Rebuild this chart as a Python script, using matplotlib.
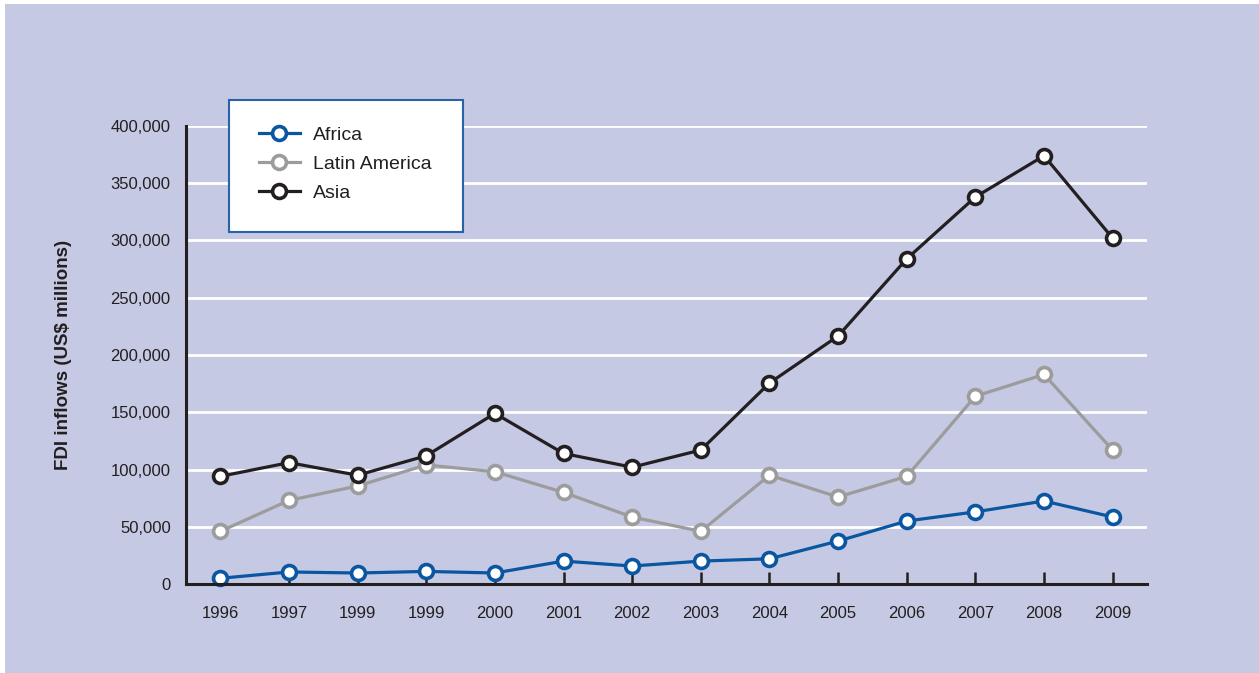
import matplotlib
matplotlib.use("Agg")
import matplotlib.pyplot as plt
from matplotlib.patches import Rectangle
from matplotlib.ticker import FuncFormatter
from matplotlib import font_manager

years = ["1996", "1997", "1999", "1999", "2000", "2001", "2002", "2003",
         "2004", "2005", "2006", "2007", "2008", "2009"]
africa = [5000, 10500, 9600, 11000, 9600, 20000, 15700, 20000,
          22000, 37500, 55000, 63000, 72500, 58500]
latin_america = [46000, 73000, 85600, 104000, 98000, 80000, 58500, 46000,
                 95000, 76000, 94000, 164000, 183000, 117000]
asia = [94000, 106000, 95000, 112000, 149000, 114000, 102000, 117000,
        175500, 216600, 284000, 338000, 374000, 302000]

names = [f.name for f in font_manager.fontManager.ttflist]
fam = "Liberation Sans Narrow" if "Liberation Sans Narrow" in names else "Liberation Sans"
plt.rcParams["font.family"] = [fam, "DejaVu Sans"]

W, H = 1259, 673
fig = plt.figure(figsize=(W / 100, H / 100), dpi=100)
fig.patch.set_facecolor("white")
bg = "#C5C9E3"
fig.patches.append(Rectangle((5 / W, 0), 1 - 5 / W, 1 - 4 / H, transform=fig.transFigure,
                             facecolor=bg, edgecolor="none", zorder=-10))

ax = fig.add_axes([186 / W, 1 - 584 / H, (1147 - 186) / W, (584 - 126) / H])
ax.set_facecolor(bg)
ax.patch.set_alpha(0)

x = list(range(len(years)))
series = [("Africa", africa, "#0A56A0"),
          ("Latin America", latin_america, "#9C9C9C"),
          ("Asia", asia, "#231F20")]
handles = []
for name, vals, col in series:
    h, = ax.plot(x, vals, color=col, lw=2.3, marker="o", markersize=10,
                 markerfacecolor="white", markeredgecolor=col, markeredgewidth=2.6,
                 label=name, zorder=3, clip_on=False)
    handles.append(h)

ax.set_xlim(-0.5, len(years) - 0.5)
ax.set_ylim(0, 400000)
ax.set_yticks(range(0, 400001, 50000))
ax.yaxis.set_major_formatter(FuncFormatter(lambda v, p: f"{int(v):,}"))
ax.set_xticks(x)
ax.set_xticklabels(years)
for v in range(50000, 400001, 50000):
    ax.axhline(v, color="white", lw=2, zorder=1)

for s in ["top", "right"]:
    ax.spines[s].set_visible(False)
for s in ["left", "bottom"]:
    ax.spines[s].set_color("#231F20")
    ax.spines[s].set_linewidth(2.2)
    ax.spines[s].set_zorder(4)

ax.tick_params(axis="x", direction="in", length=9, width=1.8, color="#231F20",
               labelsize=12, labelcolor="#231F20", pad=16)
ax.tick_params(axis="y", length=0, labelsize=12, labelcolor="#231F20", pad=11)

fig.text(63 / W, 1 - 355 / H, "FDI inflows (US$ millions)", rotation=90,
         ha="center", va="center", fontsize=13.5, fontweight="bold", color="#231F20")

# legend box
fig.patches.append(Rectangle((229 / W, 1 - 232 / H), (463 - 229) / W, (232 - 100) / H,
                             transform=fig.transFigure, facecolor="white",
                             edgecolor="#2A62A8", lw=1.5, zorder=5))
leg = fig.legend(handles=handles, loc="upper left",
                 bbox_to_anchor=(259 / W, 1 - 126 / H), frameon=False,
                 fontsize=14, handlelength=2.1, handletextpad=0.7,
                 labelspacing=0.6, borderaxespad=0, borderpad=0)
leg.set_zorder(6)
for t in leg.get_texts():
    t.set_color("#231F20")

fig.savefig("out.png", dpi=100, facecolor=fig.get_facecolor())
